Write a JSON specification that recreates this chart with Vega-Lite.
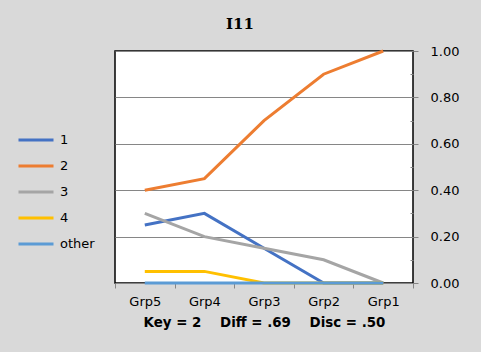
{
  "$schema": "https://vega.github.io/schema/vega-lite/v6.json",
  "width": 298,
  "height": 232,
  "autosize": {"type": "none"},
  "padding": {"left": 115, "top": 51, "right": 68, "bottom": 69},
  "background": "#d9d9d9",
  "title": {
    "text": "I11",
    "font": "DejaVu Serif",
    "fontSize": 15,
    "fontWeight": "bold",
    "color": "#000000",
    "dx": -24,
    "baseline": "alphabetic",
    "offset": 1
  },
  "config": {
    "view": {"stroke": "#000000", "strokeWidth": 1.5, "fill": "#ffffff"},
    "font": "DejaVu Sans"
  },
  "data": {
    "values": [
      {"grp": "Grp5", "series": "1", "value": 0.25},
      {"grp": "Grp4", "series": "1", "value": 0.30},
      {"grp": "Grp3", "series": "1", "value": 0.15},
      {"grp": "Grp2", "series": "1", "value": 0.0},
      {"grp": "Grp1", "series": "1", "value": 0.0},
      {"grp": "Grp5", "series": "2", "value": 0.40},
      {"grp": "Grp4", "series": "2", "value": 0.45},
      {"grp": "Grp3", "series": "2", "value": 0.70},
      {"grp": "Grp2", "series": "2", "value": 0.90},
      {"grp": "Grp1", "series": "2", "value": 1.0},
      {"grp": "Grp5", "series": "3", "value": 0.30},
      {"grp": "Grp4", "series": "3", "value": 0.20},
      {"grp": "Grp3", "series": "3", "value": 0.15},
      {"grp": "Grp2", "series": "3", "value": 0.10},
      {"grp": "Grp1", "series": "3", "value": 0.0},
      {"grp": "Grp5", "series": "4", "value": 0.05},
      {"grp": "Grp4", "series": "4", "value": 0.05},
      {"grp": "Grp3", "series": "4", "value": 0.0},
      {"grp": "Grp2", "series": "4", "value": 0.0},
      {"grp": "Grp1", "series": "4", "value": 0.0},
      {"grp": "Grp5", "series": "other", "value": 0.0},
      {"grp": "Grp4", "series": "other", "value": 0.0},
      {"grp": "Grp3", "series": "other", "value": 0.0},
      {"grp": "Grp2", "series": "other", "value": 0.0},
      {"grp": "Grp1", "series": "other", "value": 0.0}
    ]
  },
  "mark": {"type": "line", "strokeWidth": 3, "clip": false},
  "encoding": {
    "x": {
      "field": "grp",
      "type": "nominal",
      "sort": ["Grp5", "Grp4", "Grp3", "Grp2", "Grp1"],
      "scale": {"type": "band", "paddingInner": 0, "paddingOuter": 0},
      "axis": {
        "orient": "bottom",
        "title": "Key = 2\u00a0\u00a0\u00a0\u00a0Diff = .69\u00a0\u00a0\u00a0\u00a0Disc = .50",
        "titleFontSize": 13.4,
        "titleFontWeight": "bold",
        "titleColor": "#000000",
        "titlePadding": 7,
        "labelAngle": 0,
        "labelFontSize": 13,
        "labelColor": "#000000",
        "labelPadding": 7,
        "tickBand": "extent",
        "tickColor": "#868686",
        "tickSize": 5,
        "domain": false,
        "grid": false
      }
    },
    "y": {
      "field": "value",
      "type": "quantitative",
      "scale": {"domain": [0, 1], "nice": false},
      "axis": {
        "orient": "right",
        "title": null,
        "values": [0, 0.1, 0.2, 0.3, 0.4, 0.5, 0.6, 0.7, 0.8, 0.9, 1.0],
        "labelExpr": "round(datum.value*10) % 2 == 0 ? format(datum.value, '.2f') : ''",
        "labelFontSize": 13,
        "labelColor": "#000000",
        "labelPadding": 12,
        "labelFlush": false,
        "domain": false,
        "grid": true,
        "gridColor": "#868686",
        "gridOpacity": {"condition": {"test": "round(datum.value*10) % 2 == 0", "value": 1}, "value": 0},
        "tickColor": "#868686",
        "tickSize": {"condition": {"test": "round(datum.value*10) % 2 == 0", "value": 5}, "value": -3}
      }
    },
    "color": {
      "field": "series",
      "type": "nominal",
      "scale": {
        "domain": ["1", "2", "3", "4", "other"],
        "range": ["#4472c4", "#ed7d31", "#a5a5a5", "#ffc000", "#5b9bd5"]
      },
      "legend": {
        "orient": "none",
        "legendX": -98,
        "legendY": 70,
        "title": null,
        "symbolType": "stroke",
        "symbolSize": 1225,
        "symbolStrokeWidth": 3,
        "labelFontSize": 13,
        "labelColor": "#000000",
        "labelOffset": 5,
        "rowPadding": 0
      }
    }
  }
}
